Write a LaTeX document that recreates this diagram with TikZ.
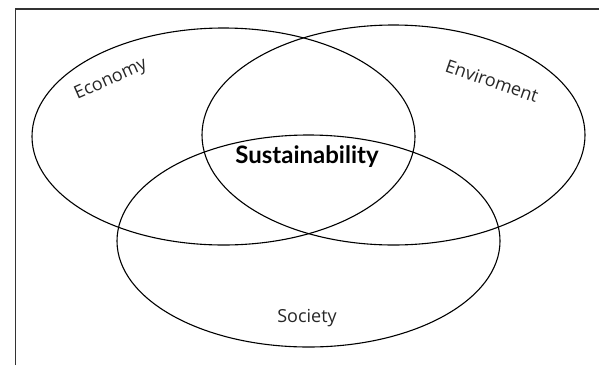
\documentclass[tikz,border=0pt]{standalone}
\usepackage{fontspec}
\setmainfont{Open Sans}
\newfontfamily\boldfam{Lato}
\begin{document}
\begin{tikzpicture}[x=1pt,y=-1pt,
  circ/.style={draw=black,line width=1.1pt},
  lbl/.style={font=\fontsize{18}{21}\selectfont,text=black!85,inner sep=0pt},
  frameline/.style={draw=black!80,line width=1.5pt}]
\useasboundingbox (0,0) rectangle (599,365);
\draw[frameline] (15.5,365) -- (15.5,9) -- (599,9);
\draw[circ] (223.5,136.5) ellipse [x radius=191.5, y radius=108.5];
\draw[circ] (393.5,135) ellipse [x radius=191.5, y radius=110];
\draw[circ] (308.5,241) ellipse [x radius=191.5, y radius=106];
\node[lbl,rotate=24] (eco) at (111,80) {Economy};
\node[lbl,rotate=-19] (env) at (492,81) {Enviroment};
\node[lbl] (soc) at (307,318) {Society};
\node[font=\boldfam\bfseries\fontsize{24}{27}\selectfont,inner sep=0pt] (sus) at (307,157) {Sustainability};
\end{tikzpicture}
\end{document}
